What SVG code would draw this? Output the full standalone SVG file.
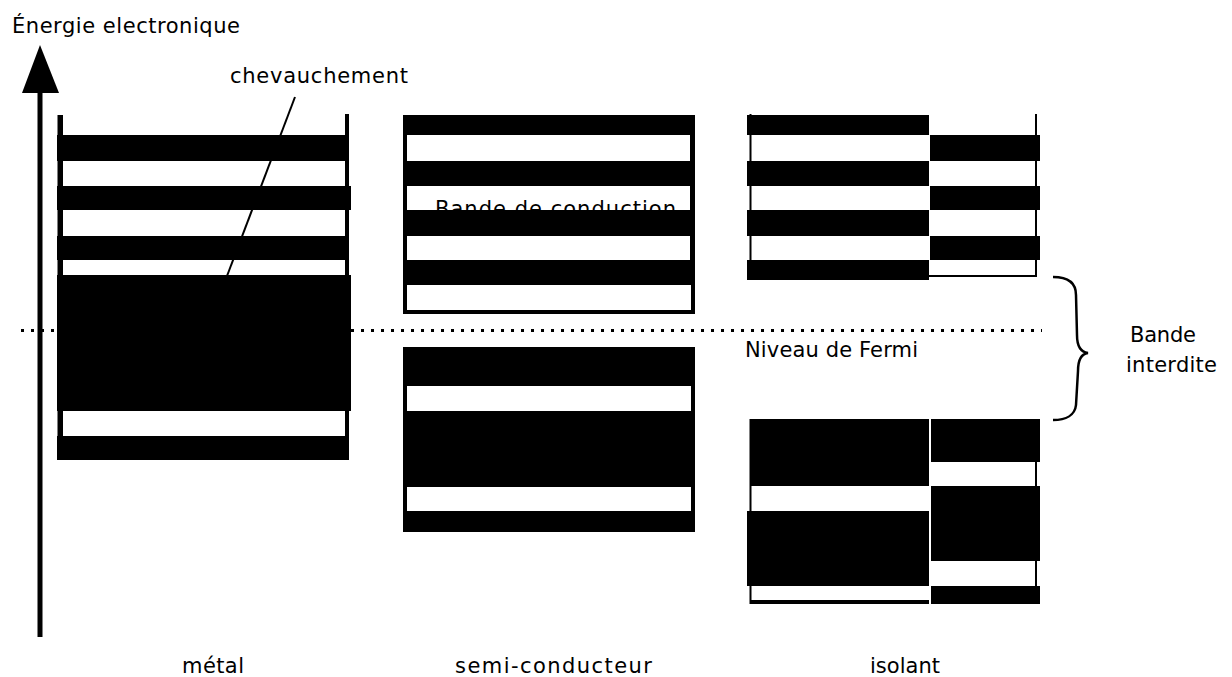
<svg xmlns="http://www.w3.org/2000/svg" width="1232" height="677" viewBox="0 0 1232 677">
<style>
  .t { font-family: "DejaVu Sans", "Liberation Sans", sans-serif; font-size: 21px; fill: #000; }
  .b { fill: #000; }
  .w { fill: #fff; }
</style>
<rect width="1232" height="677" fill="#fff"/>

<g id="axis">
  <rect x="37.5" y="88" width="5" height="549" class="b"/>
  <polygon points="40,45 22,93 59,93" class="b"/>
  <text class="t" x="12" y="33" textLength="228" lengthAdjust="spacing">Énergie electronique</text>
</g>

<g id="fermi">
  <line x1="21" y1="330.5" x2="1042" y2="330.5" stroke="#000" stroke-width="3" stroke-dasharray="3 7"/>
  <text class="t" x="745" y="357" textLength="173" lengthAdjust="spacing">Niveau de Fermi</text>
</g>

<g id="metal">
  <rect x="57.5" y="115" width="5.5" height="345" class="b"/>
  <rect x="345" y="114" width="4" height="346" class="b"/>
  <rect x="57" y="135" width="290" height="26" class="b"/>
  <rect x="57" y="186" width="294" height="24" class="b"/>
  <rect x="57" y="236" width="290" height="24" class="b"/>
  <rect x="57" y="275" width="294" height="136" class="b"/>
  <rect x="57" y="436" width="291" height="24" class="b"/>
  <text class="t" x="182" y="673" textLength="62" lengthAdjust="spacing">métal</text>
</g>

<g id="semiconducteur">
  <rect x="403" y="115" width="292" height="199" class="b"/>
  <rect x="407" y="135" width="283" height="26" class="w"/>
  <rect x="407" y="186" width="283" height="24" class="w"/>
  <rect x="407" y="236" width="283" height="24" class="w"/>
  <rect x="407" y="285" width="284" height="25" class="w"/>
  <text class="t" x="435" y="216" textLength="241" lengthAdjust="spacing">Bande de conduction</text>
  <rect x="403" y="210" width="292" height="26" class="b"/>
  <rect x="403" y="347" width="292" height="185" class="b"/>
  <rect x="407" y="386" width="284" height="25" class="w"/>
  <rect x="407" y="487" width="284" height="24" class="w"/>
  <text class="t" x="455" y="673" textLength="197" lengthAdjust="spacing">semi-conducteur</text>
</g>

<g id="isolant">
  <rect x="749.5" y="114" width="2" height="166" class="b"/>
  <rect x="1035" y="114" width="2" height="163" class="b"/>
  <rect x="747" y="115" width="182" height="20" class="b"/>
  <rect x="747" y="161" width="182" height="25" class="b"/>
  <rect x="747" y="210" width="182" height="26" class="b"/>
  <rect x="747" y="260" width="182" height="20" class="b"/>
  <rect x="930" y="135" width="110" height="26" class="b"/>
  <rect x="930" y="186" width="110" height="24" class="b"/>
  <rect x="930" y="236" width="110" height="24" class="b"/>
  <rect x="929" y="275" width="108" height="2" class="b"/>

  <rect x="749.5" y="419" width="2" height="185" class="b"/>
  <rect x="1035" y="419" width="2" height="185" class="b"/>
  <rect x="750" y="419" width="179" height="67" class="b"/>
  <rect x="747" y="511" width="182" height="75" class="b"/>
  <rect x="750" y="600" width="179" height="4" class="b"/>
  <rect x="931" y="419" width="109" height="43" class="b"/>
  <rect x="931" y="486" width="109" height="75" class="b"/>
  <rect x="931" y="586" width="109" height="18" class="b"/>
  <text class="t" x="870" y="673" textLength="70" lengthAdjust="spacing">isolant</text>
</g>

<g id="bande-interdite">
  <path d="M1053,277 C1068,277 1076,283 1076,295 L1077,335 C1077,346 1080,352 1088,353 C1080,354 1078,361 1078,371 L1076,405 C1075,415 1066,420 1053,420" fill="none" stroke="#000" stroke-width="2.5"/>
  <text class="t" x="1130" y="342" textLength="66" lengthAdjust="spacing">Bande</text>
  <text class="t" x="1126" y="372" textLength="91" lengthAdjust="spacing">interdite</text>
</g>

<g id="connectors">
  <line x1="295" y1="97" x2="227" y2="276" stroke="#000" stroke-width="2"/>
  <text class="t" x="230" y="83" textLength="178" lengthAdjust="spacing">chevauchement</text>
</g>
</svg>
